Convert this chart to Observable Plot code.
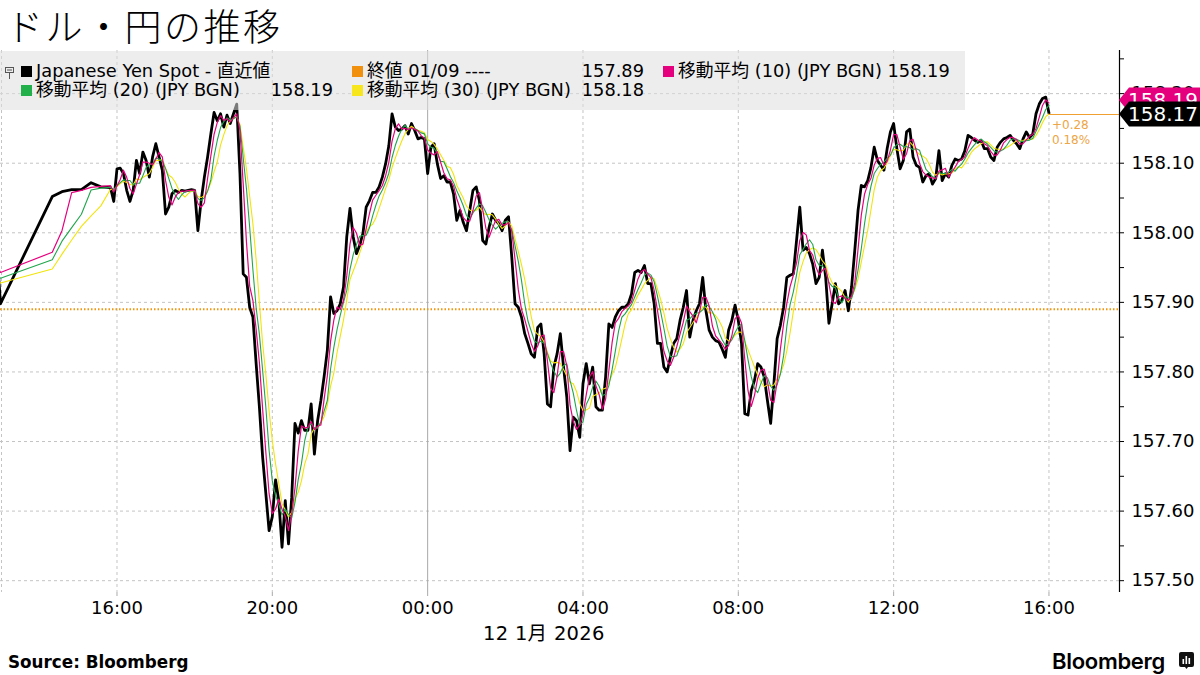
<!DOCTYPE html>
<html><head><meta charset="utf-8">
<script src="https://cdn.jsdelivr.net/npm/d3@7"></script>
<script src="https://cdn.jsdelivr.net/npm/@observablehq/plot@0.6"></script>
<style>
body{margin:0;background:#fff;}
#wrap{position:relative;width:1200px;height:675px;overflow:hidden;font-family:"DejaVu Sans","Noto Sans CJK JP",sans-serif;color:#000;}
#wrap svg.plot{position:absolute;left:0;top:0;}
.abs{position:absolute;white-space:nowrap;}
#title{left:6px;top:0px;padding:3px 4px 3px 0;font-family:"Noto Sans CJK JP",sans-serif;font-weight:300;font-size:37px;line-height:44px;letter-spacing:2.5px;}
#legend{left:0;top:51px;width:965px;height:59px;background:rgba(222,222,222,0.55);}
.lt{font-size:17.8px;line-height:20px;}
.sq{width:11px;height:11px;}
#source{left:8px;top:651px;font-size:16.8px;font-weight:bold;line-height:22px;}
#datelab{left:483px;top:622px;font-size:19.5px;line-height:24px;letter-spacing:0.3px;}
#logo{right:35px;top:647px;font-family:Inter,Roboto,sans-serif;font-weight:600;font-size:22px;line-height:28px;letter-spacing:-0.3px;}
</style>
</head><body>
<div id="wrap">
  <div id="chart"></div>
  <div class="abs" id="title">ドル・円の推移</div>
  <div class="abs" id="legend"></div>
  <div class="abs" id="datelab">12 1月 2026</div>
  <div class="abs" id="source">Source: Bloomberg</div>
  <div class="abs" id="logo">Bloomberg</div>
  <svg class="abs" style="left:1179px;top:652px" width="15" height="17" viewBox="0 0 15 17"><path d="M2,0H13Q15,0 15,2V13Q15,15 13,15H9L7.5,17L6,15H2Q0,15 0,13V2Q0,0 2,0Z" fill="#111"/><rect x="3.5" y="7" width="1.6" height="5" fill="#fff"/><rect x="6.5" y="4" width="1.6" height="8" fill="#fff"/><rect x="9.5" y="6" width="1.6" height="6" fill="#fff"/></svg>
  <svg class="abs" style="left:5px;top:67px" width="9" height="12" viewBox="0 0 9 12"><rect x="0.5" y="0.5" width="8" height="5" fill="none" stroke="#555" stroke-width="1"/><line x1="4.5" y1="5.5" x2="4.5" y2="12" stroke="#555" stroke-width="1"/><line x1="2" y1="3" x2="7" y2="3" stroke="#555" stroke-width="1"/></svg>
</div>
<script>
// ---------------- data ----------------
// last 5-min bars of 01/09 session (the final one is shown at the left edge of the chart)
const fridayTail = [157.91, 157.91, 157.92, 157.925, 157.965, 157.966, 157.898];
const chartStart = "2026-01-11 13:00";
const chartEnd = "2026-01-12 17:49";
// sparse early-session bars
const earlyTimes = ["2026-01-11 14:20","2026-01-11 14:35","2026-01-11 14:50","2026-01-11 15:05","2026-01-11 15:20","2026-01-11 15:35"];
const earlyValues = [158.052, 158.059, 158.062, 158.062, 158.072, 158.066];
// 5-minute bars from 15:50 (11 Jan) to 16:00 (12 Jan)
const mainStart = "2026-01-11 15:50";
const mainStepMinutes = 5;
const mainValues = [
  158.065,158.045,
  158.092,158.093,158.085,158.061,158.045,158.061,158.104,158.085,158.116,158.104,158.080,158.109, // 16h
  158.128,158.109,158.090,158.027,158.037,158.056,158.061,158.058,158.061,158.060,158.061,158.062, // 17h
  158.061,158.003,158.046,158.080,158.109,158.142,158.173,158.161,158.171,158.152,158.169,158.157, // 18h
  158.171,158.185,158.085,157.941,157.936,157.893,157.879,157.812,157.750,157.678,157.625,157.572, // 19h
  157.592,157.645,157.615,157.548,157.615,157.553,157.620,157.726,157.712,157.730,157.716,157.716, // 20h
  157.754,157.682,157.730,157.759,157.793,157.831,157.908,157.884,157.888,157.898,157.922,157.994, // 21h
  158.035,157.994,157.970,157.982,157.999,158.037,158.046,158.058,158.058,158.066,158.080,158.099, // 22h
  158.125,158.171,158.152,158.147,158.149,158.154,158.142,158.157,158.147,158.135,158.137,158.135, // 23h
  158.085,158.123,158.128,158.099,158.078,158.082,158.073,158.073,158.056,158.018,158.032,158.015, // 00h
  158.003,158.032,158.061,158.066,158.046,157.989,157.984,158.008,158.027,158.018,158.013,158.003, // 01h
  158.018,158.023,157.965,157.898,157.893,157.879,157.855,157.841,157.826,157.821,157.864,157.869, // 02h
  157.826,157.754,157.750,157.807,157.826,157.855,157.807,157.764,157.687,157.735,157.730,157.706, // 03h
  157.783,157.812,157.783,157.807,157.750,157.745,157.745,157.793,157.869,157.864,157.879,157.888, // 04h
  157.893,157.893,157.898,157.912,157.943,157.946,157.943,157.953,157.927,157.927,157.898,157.841, // 05h
  157.841,157.807,157.800,157.821,157.841,157.848,157.874,157.893,157.917,157.850,157.874,157.888, // 06h
  157.898,157.936,157.888,157.860,157.850,157.845,157.843,157.833,157.821,157.860,157.874,157.896, // 07h
  157.874,157.841,157.740,157.738,157.773,157.788,157.812,157.807,157.793,157.759,157.726,157.783, // 08h
  157.848,157.867,157.893,157.936,157.939,157.941,157.989,158.037,157.975,157.979,157.970,157.955, // 09h
  157.927,157.936,157.975,157.936,157.870,157.898,157.927,157.898,157.903,157.917,157.888,157.922, // 10h
  157.975,158.032,158.068,158.066,158.075,158.094,158.123,158.104,158.097,158.090,158.121,158.145, // 11h
  158.157,158.121,158.092,158.104,158.145,158.149,158.109,158.097,158.094,158.073,158.082,158.085, // 12h
  158.070,158.078,158.118,158.075,158.085,158.080,158.097,158.106,158.104,158.106,158.118,158.140, // 13h
  158.137,158.133,158.130,158.133,158.121,158.121,158.109,158.104,158.123,158.130,158.135,158.137, // 14h
  158.140,158.133,158.128,158.121,158.135,158.145,158.137,158.142,158.171,158.185,158.193,158.195, // 15h
  158.172 // 16:00
];
const prevClose = 157.89;
const lastValue = 158.17;
const ma10Last = 158.19;
const changeText = ["+0.28", "0.18%"];
const yTicks = [157.5, 157.6, 157.7, 157.8, 157.9, 158.0, 158.1, 158.2];
const yMinorTicks = [157.55, 157.65, 157.75, 157.85, 157.95, 158.05, 158.15, 158.25];
const xTickTimes = ["2026-01-11 16:00","2026-01-11 20:00","2026-01-12 04:00","2026-01-12 08:00","2026-01-12 12:00","2026-01-12 16:00"];
const dayBreak = "2026-01-12 00:00";
const legendRows = [
  [{color:"#000000", label:"Japanese Yen Spot - 直近値", value:""},
   {color:"#f0900c", label:"終値 01/09 ----", value:"157.89"},
   {color:"#e5007e", label:"移動平均 (10) (JPY BGN) 158.19", value:""}],
  [{color:"#22b04a", label:"移動平均 (20) (JPY BGN)", value:"158.19"},
   {color:"#f7e51e", label:"移動平均 (30) (JPY BGN)", value:"158.18"}]
];

// ---------------- build ----------------
const parse = d3.timeParse("%Y-%m-%d %H:%M");
const t0 = parse(chartStart), t1 = parse(chartEnd);
const data = [];
fridayTail.forEach((v, i) => data.push({t: d3.timeMinute.offset(t0, (i - fridayTail.length + 1) * 5), v}));
earlyTimes.forEach((s, i) => data.push({t: parse(s), v: earlyValues[i]}));
const ms = parse(mainStart);
mainValues.forEach((v, i) => data.push({t: d3.timeMinute.offset(ms, i * mainStepMinutes), v}));
const lastT = data[data.length - 1].t;
const xTicks = xTickTimes.map(parse);
const mid = parse(dayBreak);

const grid = {stroke: "#c4c4c4", strokeOpacity: 1, strokeDasharray: "3,3", strokeWidth: 1};
const chart = Plot.plot({
  width: 1200, height: 675,
  marginLeft: 0, marginRight: 81, marginTop: 50, marginBottom: 83,
  x: {type: "time", domain: [t0, t1], label: null},
  y: {domain: [157.483, 158.262], label: null},
  style: {fontFamily: "DejaVu Sans, Noto Sans CJK JP, sans-serif", fontSize: "18px", color: "#000", background: "transparent", overflow: "visible"},
  marks: [
    Plot.ruleY(yTicks, {...grid}),
    Plot.ruleX(xTicks, {...grid}),
    Plot.ruleX([t0], {...grid, dx: 1}),
    Plot.ruleX([mid], {stroke: "#a8a8a8", strokeWidth: 1}),
    Plot.ruleY([prevClose], {stroke: "#f0960f", strokeWidth: 2, strokeDasharray: "1.5,2"}),
    Plot.line(data, {x: "t", y: "v", stroke: "#000", strokeWidth: 2.8, clip: true}),
    Plot.lineY(data, Plot.windowY({k: 7, anchor: "end", reduce: "mean"}, {x: "t", y: "v", stroke: "#f2e40a", strokeWidth: 1.1, clip: true})),
    Plot.lineY(data, Plot.windowY({k: 5, anchor: "end", reduce: "mean"}, {x: "t", y: "v", stroke: "#1fa64a", strokeWidth: 1.1, clip: true})),
    Plot.lineY(data, Plot.windowY({k: 3, anchor: "end", reduce: "mean"}, {x: "t", y: "v", stroke: "#e5007e", strokeWidth: 1.2, clip: true})),
    Plot.ruleY([lastValue], {x1: lastT, x2: t1, stroke: "#f0a030", strokeWidth: 1.2}),
    Plot.text([changeText[0]], {x: lastT, y: lastValue, text: d => d, dx: 3, dy: 11, textAnchor: "start", fill: "#eda545", fontSize: 12, fontFamily: "DejaVu Sans"}),
    Plot.text([changeText[1]], {x: lastT, y: lastValue, text: d => d, dx: 3, dy: 26, textAnchor: "start", fill: "#eda545", fontSize: 12, fontFamily: "DejaVu Sans"}),
    Plot.ruleX([t1], {stroke: "#000", strokeWidth: 1.2}),
    Plot.axisY(yMinorTicks, {anchor: "right", label: null, tickSize: 4, tickFormat: () => ""}),
    Plot.axisY(yTicks, {anchor: "right", label: null, tickSize: 4, tickPadding: 8, tickFormat: d => d.toFixed(2), fontSize: 18}),
    Plot.axisX(xTicks.concat([mid]), {anchor: "bottom", label: null, tickSize: 4, tickPadding: 5, stroke: "#aaa", fill: "#000", tickFormat: d3.timeFormat("%H:%M"), fontSize: 18})
  ]
});
chart.classList.add("plot");
document.getElementById("chart").appendChild(chart);

// end-value tags (pink MA10, black spot) placed with the chart's own scales
const ys = chart.scale("y"), xs = chart.scale("x");
const svg = d3.select(chart);
const xr = xs.range[1];
function tag(v, fill, label) {
  const yy = ys.apply(v);
  const g = svg.append("g");
  g.append("path").attr("d", `M${xr},${yy} L${xr + 10},${yy - 12.5} L1200,${yy - 12.5} L1200,${yy + 12.5} L${xr + 10},${yy + 12.5} Z`).attr("fill", fill);
  g.append("text").attr("x", xr + 9).attr("y", yy).attr("dy", "0.36em").attr("text-anchor", "start").attr("fill", "#fff").attr("font-size", 20).attr("font-family", "DejaVu Sans").text(label);
}
tag(ma10Last, "#e5007e", ma10Last.toFixed(2));
tag(lastValue, "#000", lastValue.toFixed(2));

// legend
const leg = document.getElementById("legend");
const colX = [21, 352, 663], valRight = [333, 644, 960];
legendRows.forEach((row, r) => {
  row.forEach((it, c) => {
    const top = r === 0 ? 15 : 34;
    const sq = document.createElement("div");
    sq.className = "abs sq"; sq.style.left = colX[c] + "px"; sq.style.top = top + "px"; sq.style.background = it.color;
    leg.appendChild(sq);
    const tx = document.createElement("div");
    tx.className = "abs lt"; tx.style.left = (colX[c] + 15) + "px"; tx.style.top = (top - 5) + "px"; tx.textContent = it.label;
    leg.appendChild(tx);
    if (it.value) {
      const vv = document.createElement("div");
      vv.className = "abs lt"; vv.style.right = (965 - valRight[c]) + "px"; vv.style.top = (top - 5) + "px"; vv.textContent = it.value;
      leg.appendChild(vv);
    }
  });
});
</script>
</body></html>
